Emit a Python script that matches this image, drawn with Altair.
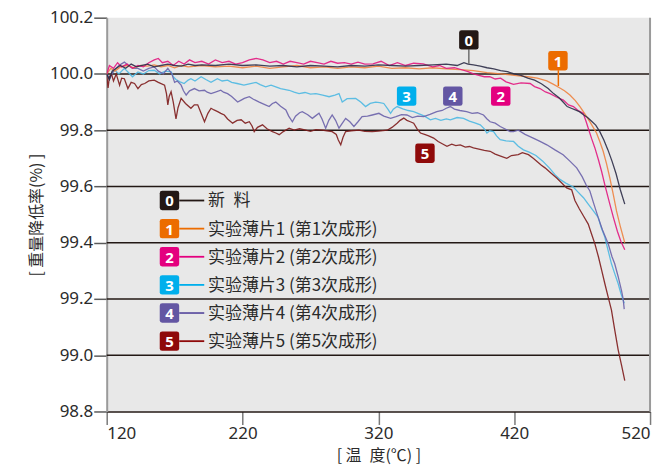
import altair as alt
import pandas as pd

# ---------------- data ----------------
ids = ["0", "1", "2", "3", "4", "5"]
names = ["新\u2002料",
         "实验薄片1 (第1次成形)",
         "实验薄片2 (第2次成形)",
         "实验薄片3 (第3次成形)",
         "实验薄片4 (第4次成形)",
         "实验薄片5 (第5次成形)"]
box_colors = ["#231815", "#ec6c00", "#e4007f", "#00afec", "#6356a3", "#8f0a0a"]
line_colors = ["#2e2e48", "#ee8340", "#e2187f", "#4cb8e2", "#6a62aa", "#7e1c1c"]

t0 = [120, 122, 124, 127, 130, 134, 138, 142, 146, 150, 155, 160, 165, 170, 175, 180, 185, 190, 200, 210,
      220, 230, 240, 250, 260, 270, 280, 290, 300, 310, 320, 330, 340, 350, 360, 370, 378, 383, 386, 390,
      395, 400, 405, 410, 415, 420, 425, 430, 435, 440, 445, 449, 453, 456, 459, 462, 465, 468, 471, 474,
      477, 480, 483, 486, 489, 492, 495, 498, 501.4]
v0 = [100.0, 99.98, 100.01, 100.02, 100.03, 100.02, 100.035, 100.025, 100.03, 100.035, 100.025, 100.03, 100.035, 100.03, 100.028, 100.035, 100.03, 100.032, 100.03, 100.035,
      100.03, 100.032, 100.028, 100.03, 100.025, 100.03, 100.028, 100.025, 100.03, 100.028, 100.032, 100.03, 100.028, 100.03, 100.032, 100.035, 100.03, 100.04, 100.035, 100.032,
      100.028, 100.022, 100.018, 100.012, 100.008, 100.0, 99.995, 99.985, 99.978, 99.965, 99.948, 99.93, 99.915, 99.9, 99.884, 99.878, 99.872, 99.866, 99.855, 99.845,
      99.832, 99.818, 99.795, 99.765, 99.73, 99.69, 99.645, 99.59, 99.537]

t1 = [120, 123, 126, 130, 135, 140, 145, 150, 155, 160, 165, 170, 175, 180, 190, 200, 210, 220, 230, 240,
      250, 260, 270, 280, 290, 300, 310, 320, 330, 340, 350, 360, 370, 380, 390, 400, 410, 420, 430, 437,
      444, 449, 453, 457, 461, 465, 468.4, 472, 476, 480.6, 483, 485.5, 488, 490.4, 493, 495.3, 498, 501.4]
v1 = [100.0, 100.02, 100.01, 100.025, 100.03, 100.022, 100.03, 100.028, 100.032, 100.025, 100.03, 100.022, 100.03, 100.025, 100.03, 100.025, 100.028, 100.022, 100.028, 100.02,
      100.025, 100.03, 100.022, 100.025, 100.02, 100.025, 100.022, 100.028, 100.02, 100.022, 100.018, 100.022, 100.018, 100.015, 100.012, 100.005, 100.0, 99.995, 99.99, 99.985,
      99.975, 99.963, 99.952, 99.94, 99.925, 99.905, 99.884, 99.858, 99.828, 99.79, 99.76, 99.725, 99.68, 99.63, 99.57, 99.513, 99.46, 99.40]

t2 = [120, 122, 125, 128, 131, 135, 139, 143, 147, 151, 155, 158, 161, 165, 169, 173, 177, 181, 185, 190,
      195, 200, 205, 210, 215, 220, 225, 230, 235, 240, 245, 250, 255, 260, 265, 270, 275, 280, 285, 290,
      295, 300, 305, 310, 316, 322, 328, 334, 340, 346, 353, 360, 365, 370, 376, 382, 386, 390, 394, 398,
      402, 406, 410, 414, 419.5, 425, 431.7, 435, 439, 443, 446.4, 451, 456.2, 460, 463.6, 467, 470.8, 473, 474.5, 477,
      479.4, 482, 484.3, 487, 490.4, 493, 496, 498.5, 501.4]
v2 = [100.0, 100.03, 100.02, 100.04, 100.025, 100.035, 100.02, 100.03, 100.025, 100.04, 100.05, 100.055, 100.04, 100.045, 100.03, 100.045, 100.035, 100.05, 100.04, 100.045,
      100.035, 100.05, 100.04, 100.045, 100.035, 100.04, 100.05, 100.055, 100.05, 100.04, 100.045, 100.035, 100.045, 100.04, 100.035, 100.045, 100.04, 100.035, 100.045, 100.038,
      100.04, 100.035, 100.042, 100.035, 100.036, 100.045, 100.03, 100.04, 100.03, 100.038, 100.036, 100.025, 100.03, 100.02, 100.022, 100.014, 100.008, 100.0, 99.995, 99.99,
      99.99, 99.982, 99.985, 99.972, 99.963, 99.968, 99.966, 99.955, 99.948, 99.936, 99.93, 99.918, 99.907, 99.89, 99.884, 99.87, 99.86, 99.83, 99.807, 99.77,
      99.737, 99.695, 99.654, 99.6, 99.537, 99.49, 99.44, 99.405, 99.375]

t3 = [120, 122, 124, 126, 129, 133, 136, 139, 143, 147, 151, 155, 159, 163, 167.5, 169, 171, 174, 177, 180,
      182, 185, 189.5, 193, 196.8, 201.5, 205, 209, 212, 216, 221, 225, 229.9, 233, 237, 241, 244.5, 248, 254.3, 258,
      261.6, 266, 270, 274, 279, 283.7, 288, 291, 293.4, 297, 303.3, 307, 310.6, 314, 318, 321, 324, 327, 329, 331,
      333.8, 338, 342, 346, 350, 354, 358.3, 362, 366, 370, 373, 378, 382.7, 387, 391, 395, 398, 399.9, 402, 404.8,
      407, 409.7, 414, 419.5, 423, 426.8, 431, 436, 441, 446, 450, 453.7, 458, 463.5, 467, 471, 474.5, 478, 481.8, 484,
      486.7, 489, 491.6, 494, 496.5, 498.5, 500.2, 501]
v3 = [100.0, 99.985, 100.005, 100.013, 100.0, 100.02, 100.005, 99.99, 100.007, 100.0, 100.012, 100.013, 100.0, 100.01, 100.007, 99.99, 99.98, 99.972, 99.966, 99.978,
      99.983, 99.975, 99.99, 99.98, 99.97, 99.983, 99.975, 99.978, 99.97, 99.966, 99.96, 99.965, 99.97, 99.962, 99.954, 99.96, 99.954, 99.948, 99.942, 99.935,
      99.93, 99.934, 99.928, 99.93, 99.925, 99.919, 99.925, 99.93, 99.90, 99.912, 99.913, 99.9, 99.884, 99.895, 99.90, 99.898, 99.895, 99.875, 99.86, 99.875,
      99.884, 99.876, 99.87, 99.866, 99.858, 99.85, 99.837, 99.842, 99.835, 99.84, 99.837, 99.845, 99.842, 99.832, 99.826, 99.819, 99.805, 99.79, 99.798, 99.795,
      99.78, 99.766, 99.762, 99.76, 99.743, 99.73, 99.722, 99.71, 99.69, 99.665, 99.642, 99.625, 99.612, 99.598, 99.58, 99.56, 99.537, 99.515, 99.49, 99.455,
      99.42, 99.375, 99.325, 99.29, 99.255, 99.22, 99.196, 99.185]

t4 = [120, 122, 125, 129, 133, 136, 139, 143, 147, 151, 155, 158, 161.7, 165, 168, 170, 172, 174.8, 176.5, 178.5,
      181, 184.6, 188, 192, 194, 196.8, 200, 204, 206, 209, 212, 216.4, 219, 221.3, 225, 228, 232.3, 236, 239.6, 242,
      244.5, 248, 251.9, 254, 256.7, 259, 262, 264, 268, 271.4, 273.5, 276.3, 278.5, 281.2, 283.5, 286, 288.5, 291, 293.5, 295.9,
      299, 302, 305, 308, 312, 315.5, 320.4, 324, 329, 333, 337, 341, 345, 349, 353.4, 358, 363, 367, 370, 373,
      376, 380, 385, 389, 393, 397.4, 400, 402.3, 406, 409.7, 413, 417, 419.5, 423, 428, 434, 439, 444, 450, 456,
      461, 466, 470, 473, 475.7, 478.5, 481.8, 485, 489.2, 492, 494, 496.5, 499, 500.2, 501]
v4 = [100.0, 99.98, 100.01, 100.03, 100.042, 100.03, 100.02, 100.02, 100.01, 100.02, 100.025, 100.01, 100.0, 100.02, 100.0, 99.97, 99.975, 99.96, 99.94, 99.925,
      99.94, 99.948, 99.94, 99.942, 99.935, 99.93, 99.935, 99.942, 99.935, 99.93, 99.92, 99.90, 99.907, 99.913, 99.919, 99.91, 99.90, 99.892, 99.884, 99.895,
      99.90, 99.885, 99.872, 99.85, 99.83, 99.85, 99.862, 99.866, 99.855, 99.842, 99.85, 99.86, 99.84, 99.807, 99.835, 99.854, 99.835, 99.807, 99.825, 99.842,
      99.83, 99.813, 99.83, 99.848, 99.85, 99.854, 99.86, 99.85, 99.842, 99.848, 99.855, 99.854, 99.845, 99.85, 99.848, 99.856, 99.866, 99.87, 99.878, 99.884,
      99.875, 99.87, 99.866, 99.86, 99.862, 99.854, 99.84, 99.83, 99.825, 99.813, 99.805, 99.795, 99.795, 99.80, 99.785, 99.772, 99.76, 99.748, 99.73, 99.713,
      99.69, 99.666, 99.635, 99.605, 99.584, 99.54, 99.49, 99.445, 99.396, 99.35, 99.325, 99.28, 99.23, 99.2, 99.164]

t5 = [120, 121, 122, 123.5, 125, 127, 129.5, 131, 133, 135.6, 138, 140.5, 143, 145.5, 148, 151, 155, 158, 162.6, 164,
      165, 166, 167.4, 169, 171, 172.5, 174.8, 178, 182, 184.5, 187, 189.5, 192, 194.5, 196.8, 199, 201.7, 204, 206.6, 209,
      212.7, 216, 219, 222, 225, 227, 228.6, 231, 234.7, 238, 242, 244.5, 247, 250, 254.3, 258, 262, 266.6, 270, 274,
      278.8, 282, 286, 289, 290.5, 292.3, 294, 295.9, 300, 305.7, 310, 315.5, 320, 326.5, 330, 333.8, 336, 338.7, 341, 343.5,
      346, 348.5, 351, 354, 357, 360.7, 364, 367, 370.5, 374, 377, 380.3, 384, 387, 390, 394, 398, 402.3, 406, 410,
      414.5, 418, 423, 426, 430.5, 434, 437, 440, 442.7, 447, 451.3, 455, 458.6, 462.3, 464.7, 468, 471, 474.5, 477, 479.4,
      482, 484.5, 486.7, 489, 491.6, 494, 496.5, 499, 501.4]
v5 = [100.0, 99.95, 99.99, 100.0, 99.975, 100.0, 99.96, 99.985, 99.983, 99.948, 99.97, 99.966, 99.948, 99.962, 99.966, 99.975, 99.978, 99.97, 99.96, 99.93,
      99.89, 99.92, 99.937, 99.9, 99.84, 99.88, 99.913, 99.895, 99.878, 99.89, 99.89, 99.86, 99.83, 99.86, 99.878, 99.872, 99.866, 99.86, 99.854, 99.84,
      99.825, 99.835, 99.837, 99.825, 99.83, 99.815, 99.795, 99.81, 99.819, 99.805, 99.795, 99.79, 99.784, 99.795, 99.807, 99.8, 99.805, 99.80, 99.796, 99.802,
      99.80, 99.798, 99.795, 99.785, 99.765, 99.748, 99.775, 99.795, 99.798, 99.80, 99.796, 99.795, 99.797, 99.80, 99.81, 99.825, 99.835, 99.843, 99.835, 99.83,
      99.825, 99.805, 99.79, 99.785, 99.78, 99.772, 99.76, 99.752, 99.743, 99.75, 99.745, 99.748, 99.74, 99.742, 99.737, 99.733, 99.728, 99.725, 99.715, 99.708,
      99.70, 99.71, 99.713, 99.72, 99.713, 99.70, 99.688, 99.675, 99.666, 99.648, 99.63, 99.612, 99.595, 99.588, 99.55, 99.52, 99.495, 99.466, 99.43, 99.396,
      99.35, 99.3, 99.255, 99.21, 99.16, 99.09, 99.02, 98.965, 98.91]

series_t = [t0, t1, t2, t3, t4, t5]
series_v = [v0, v1, v2, v3, v4, v5]
draw_order = ["3", "4", "5", "1", "2", "0"]

# in-plot number tags (data coordinates)
tag_t = [386.6, 452.2, 410.1, 340.8, 374.8, 354.3]
tag_v = [100.121, 100.047, 99.921, 99.921, 99.921, 99.718]
# leader lines for tags 0 and 1
lead_id = ["0", "1"]
lead_t = [386.6, 452.5]
lead_v1 = [100.088, 100.013]
lead_v2 = [100.035, 99.957]

# in-plot legend
leg_v = [99.55, 99.45, 99.35, 99.25, 99.15, 99.05]
leg_box_t = 166.2
leg_line_t = (173.4, 191.8)
leg_text_t = 194.6

x_ticks = [120, 220, 320, 420, 520]
y_ticks = [98.8, 99.0, 99.2, 99.4, 99.6, 99.8, 100.0, 100.2]
grid_vals = [99.0, 99.2, 99.4, 99.6, 99.8, 100.0]

# ---------------- tables ----------------
rows = []
for k in draw_order:
    i = ids.index(k)
    for j, (t, v) in enumerate(zip(series_t[i], series_v[i])):
        rows.append({"id": k, "T": t, "V": v, "ord": draw_order.index(k) * 1000 + j})
lines_df = pd.DataFrame(rows)

tags_df = pd.DataFrame({"id": ids, "T": tag_t, "V": tag_v})
lead_df = pd.DataFrame({"id": lead_id, "T": lead_t, "V": lead_v1, "V2": lead_v2})
leg_df = pd.DataFrame({"id": ids, "name": names, "V": leg_v,
                       "Tb": [leg_box_t] * 6, "T1": [leg_line_t[0]] * 6,
                       "T2": [leg_line_t[1]] * 6, "Tt": [leg_text_t] * 6})
grid_df = pd.DataFrame({"V": grid_vals})
edge_df = pd.DataFrame({"T": [520]})

# ---------------- scales ----------------
xs = alt.Scale(domain=[120, 520], nice=False, zero=False)
ys = alt.Scale(domain=[98.8, 100.2], nice=False, zero=False)
line_col = alt.Color("id:N", scale=alt.Scale(domain=ids, range=line_colors), legend=None)
box_col = alt.Color("id:N", scale=alt.Scale(domain=ids, range=box_colors), legend=None)

TXT = "#2b2b2b"
CJK = "Noto Sans CJK SC"

x_axis = alt.Axis(values=x_ticks, title="[ 温\u2002度(℃) ]", grid=False, tickSize=13,
                  tickColor="#7a7a7a", tickWidth=1.5, domainColor="#231815", domainWidth=1.5,
                  labelFontSize=17, labelFont="Noto Sans", labelColor=TXT, labelPadding=1,
                  titleFont=CJK, titleFontSize=16, titleFontWeight="normal", titleColor=TXT,
                  titlePadding=6)
y_axis = alt.Axis(values=y_ticks, format=".1f", title="[ 重量降低率(%) ]", grid=False, tickSize=13,
                  tickColor="#5a5a5a", tickWidth=1.5, domainColor="#9a9a9a", domainWidth=2,
                  labelFontSize=17, labelFont="Noto Sans", labelColor=TXT, labelPadding=1,
                  titleFont=CJK, titleFontSize=16, titleFontWeight="normal", titleColor=TXT,
                  titlePadding=5)

base_x = alt.X("T:Q", scale=xs, axis=x_axis)
base_y = alt.Y("V:Q", scale=ys, axis=y_axis)

grid = alt.Chart(grid_df).mark_rule(color="#231815", strokeWidth=1.4).encode(
    y=alt.Y("V:Q", scale=ys, axis=y_axis))
edge = alt.Chart(edge_df).mark_rule(color="#9a9a9a", strokeWidth=2).encode(
    x=alt.X("T:Q", scale=xs, axis=x_axis))

lines = alt.Chart(lines_df).mark_line(strokeWidth=1.3, opacity=0.9, clip=True).encode(
    x=base_x, y=base_y, color=line_col, detail="id:N", order="ord:Q")

lead = alt.Chart(lead_df).mark_rule(strokeWidth=1.5).encode(
    x="T:Q", y="V:Q", y2="V2:Q",
    color=alt.Color("id:N", scale=alt.Scale(domain=["0", "1"], range=["#707070", "#ec6c00"]), legend=None))

rounded = "M-1,-0.75 Q-1,-1 -0.75,-1 L0.75,-1 Q1,-1 1,-0.75 L1,0.75 Q1,1 0.75,1 L-0.75,1 Q-1,1 -1,0.75 Z"

tag_box = alt.Chart(tags_df).mark_point(shape=rounded, filled=True, size=380, opacity=1, strokeWidth=0).encode(
    x="T:Q", y="V:Q", color=box_col)
tag_txt = alt.Chart(tags_df).mark_text(color="white", font="Noto Sans", fontWeight="bold", fontSize=15,
                                       align="center", baseline="middle", dy=1).encode(
    x="T:Q", y="V:Q", text="id:N")

leg_line = alt.Chart(leg_df).mark_rule(strokeWidth=1.8).encode(
    x="T1:Q", x2="T2:Q", y="V:Q", color=box_col)
leg_box = alt.Chart(leg_df).mark_point(shape=rounded, filled=True, size=380, opacity=1, strokeWidth=0).encode(
    x="Tb:Q", y="V:Q", color=box_col)
leg_num = alt.Chart(leg_df).mark_text(color="white", font="Noto Sans", fontWeight="bold", fontSize=15,
                                      align="center", baseline="middle", dy=1).encode(
    x="Tb:Q", y="V:Q", text="id:N")
leg_txt = alt.Chart(leg_df).mark_text(color=TXT, font=CJK, fontSize=17, align="left",
                                      baseline="middle", dy=1).encode(
    x="Tt:Q", y="V:Q", text="name:N")

chart = alt.layer(grid, edge, lines, lead, tag_box, tag_txt, leg_line, leg_box, leg_num, leg_txt).resolve_scale(
    color="independent"
).properties(
    width=545, height=395,
    padding={"left": 99, "top": 9, "right": 14, "bottom": 60},
    autosize=alt.AutoSizeParams(type="none"),
    background="white",
).configure_view(fill="#e8e8e8", stroke=None)

chart.save("out.html", embed_options={"renderer": "svg", "actions": False})
